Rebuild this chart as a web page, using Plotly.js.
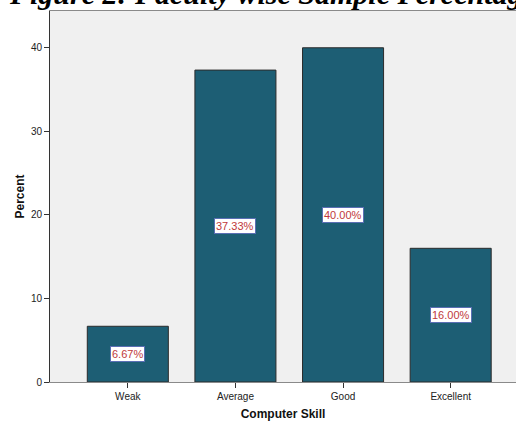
<!DOCTYPE html>
<html>
<head>
<meta charset="utf-8">
<script src="https://cdn.plot.ly/plotly-3.0.1.min.js"></script>
<style>
  html, body { margin: 0; padding: 0; background: #ffffff; }
  #chart { width: 516px; height: 428px; }
</style>
</head>
<body>
<div id="chart"></div>
<script>
// Computer skill levels and the share of respondents in each
const categories = ["Weak", "Average", "Good", "Excellent"];
const percents = [6.67, 37.33, 40.00, 16.00];
const yTicks = [0, 10, 20, 30, 40];
const titleText = "Figure 2: Faculty wise Sample Percentage";

const barColor = "#1d5e74";
const labelFont = "Liberation Sans, Arial, sans-serif";

const trace = {
  type: "bar",
  x: categories,
  y: percents,
  width: 0.753,
  marker: { color: barColor, line: { color: "#2b2b2b", width: 1 } },
  hoverinfo: "skip"
};

// Value labels sit in the middle of each bar inside a small white box
const valueLabels = categories.map((c, i) => ({
  x: c,
  y: percents[i] / 2,
  xref: "x",
  yref: "y",
  text: percents[i].toFixed(2) + "%",
  showarrow: false,
  font: { family: labelFont, size: 11, color: "#c0393b" },
  bgcolor: "#ffffff",
  bordercolor: "#5a6fb4",
  borderwidth: 1,
  borderpad: 1
}));

const heading = {
  xref: "paper",
  yref: "paper",
  x: -0.093,
  y: 0.998,
  xanchor: "left",
  yanchor: "bottom",
  text: "<b><i>" + titleText + "</i></b>",
  showarrow: false,
  font: { family: "Liberation Serif, Times New Roman, serif", size: 30, color: "#000000" }
};

const layout = {
  width: 516,
  height: 428,
  margin: { l: 50, r: 0, t: 11, b: 46, pad: 0 },
  paper_bgcolor: "#ffffff",
  plot_bgcolor: "#f0f0f0",
  showlegend: false,
  bargap: 0,
  xaxis: {
    type: "category",
    range: [-0.723, 3.607],
    showgrid: false,
    zeroline: false,
    showline: true,
    linecolor: "#8a8a8a",
    linewidth: 1,
    mirror: true,
    ticks: "outside",
    ticklen: 5,
    tickcolor: "#333333",
    tickfont: { family: labelFont, size: 10, color: "#222222" },
    title: {
      text: "<b>Computer Skill</b>",
      font: { family: labelFont, size: 12, color: "#111111" },
      standoff: 8
    }
  },
  yaxis: {
    range: [0, 44.4],
    tickvals: yTicks,
    ticktext: yTicks.map(String),
    showgrid: false,
    zeroline: false,
    showline: true,
    linecolor: "#333333",
    linewidth: 1,
    ticks: "outside",
    ticklen: 5,
    tickcolor: "#333333",
    tickfont: { family: labelFont, size: 10, color: "#222222" },
    title: {
      text: "<b>Percent</b>",
      font: { family: labelFont, size: 12, color: "#111111" },
      standoff: 3
    }
  },
  annotations: valueLabels.concat([heading])
};

Plotly.newPlot("chart", [trace], layout, { staticPlot: true, displayModeBar: false });
</script>
</body>
</html>
